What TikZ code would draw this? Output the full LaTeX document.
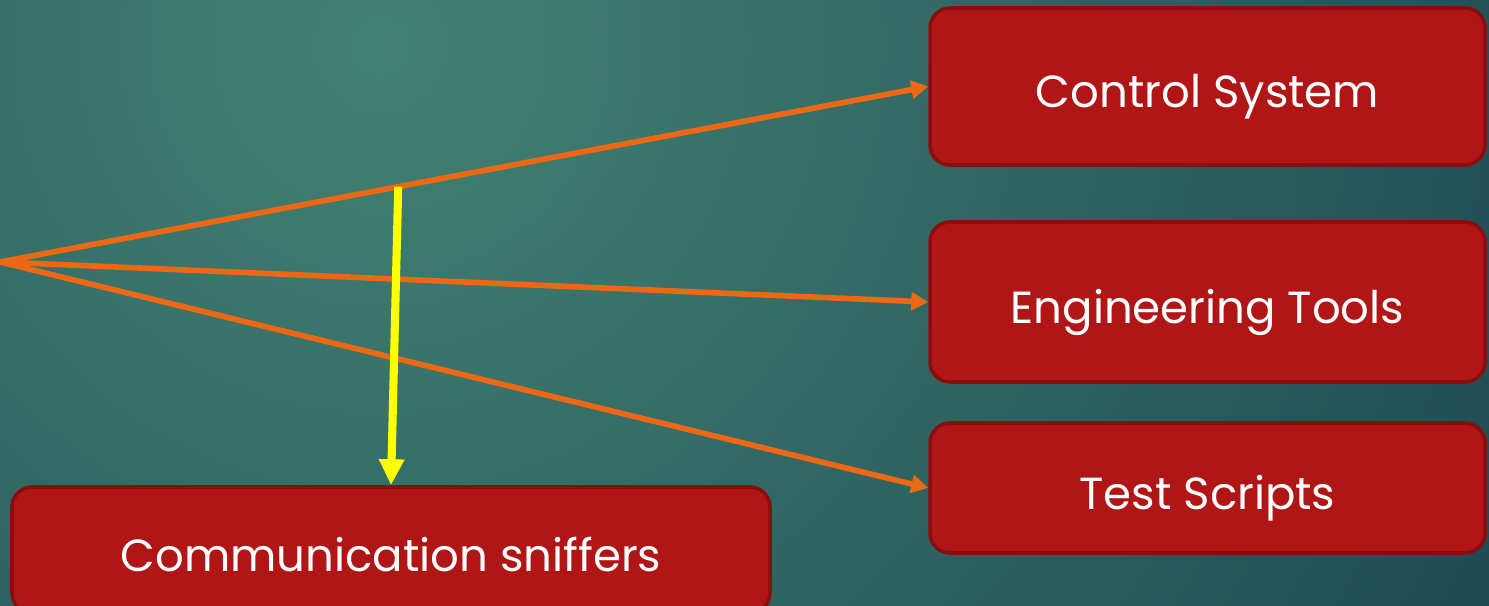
\documentclass[tikz,border=0pt]{standalone}
\usepackage{fontspec}
\setmainfont{Poppins}
\usetikzlibrary{arrows.meta,calc}
\definecolor{bgin}{RGB}{66,130,114}
\definecolor{bgout}{RGB}{18,54,74}
\definecolor{boxfill}{RGB}{176,22,22}
\definecolor{boxline}{RGB}{138,14,14}
\definecolor{feed}{RGB}{236,104,20}
\definecolor{tap}{RGB}{255,255,0}

\begin{document}
\begin{tikzpicture}[
  target/.style={draw=boxline, fill=boxfill, line width=1pt, rounded corners=0.2cm,
    minimum width=5.55cm, text=white, text height=0.55cm, text depth=0.12cm,
    font=\fontsize{12.8}{15}\selectfont},
  feedline/.style={draw=feed, line width=1.6pt, -{Triangle[length=0.17cm,width=0.18cm]}},
  tapline/.style={draw=tap, line width=2.3pt, -{Triangle[length=0.26cm,width=0.24cm]}}
]
% background
\begin{scope}
\clip (0,0) rectangle (14.89,6.06);
\shade[inner color=bgin, outer color=bgout] (3.8,5.6) circle (17cm);
\end{scope}
\useasboundingbox (0,0) rectangle (14.89,6.06);

% boxes
\node[target, minimum height=1.57cm] (ctrl) at (12.075,5.195) {Control System};
\node[target, minimum height=1.60cm] (eng) at (12.075,3.04) {Engineering Tools};
\node[target, minimum height=1.30cm] (test) at (12.075,1.18) {Test Scripts};
\node[target, minimum width=7.58cm, minimum height=1.26cm] (comm) at (3.91,0.56) {Communication sniffers};

% source point
\coordinate (src) at (0,3.44);

% connectors
\draw[feedline] (src) -- (ctrl.west);
\draw[feedline] (src) -- (eng.west);
\draw[feedline] (src) -- (test.west);
\coordinate (tapin) at ($(src)!0.429!(ctrl.west)$);
\draw[tapline] (tapin) -- (comm.north);
\end{tikzpicture}
\end{document}
